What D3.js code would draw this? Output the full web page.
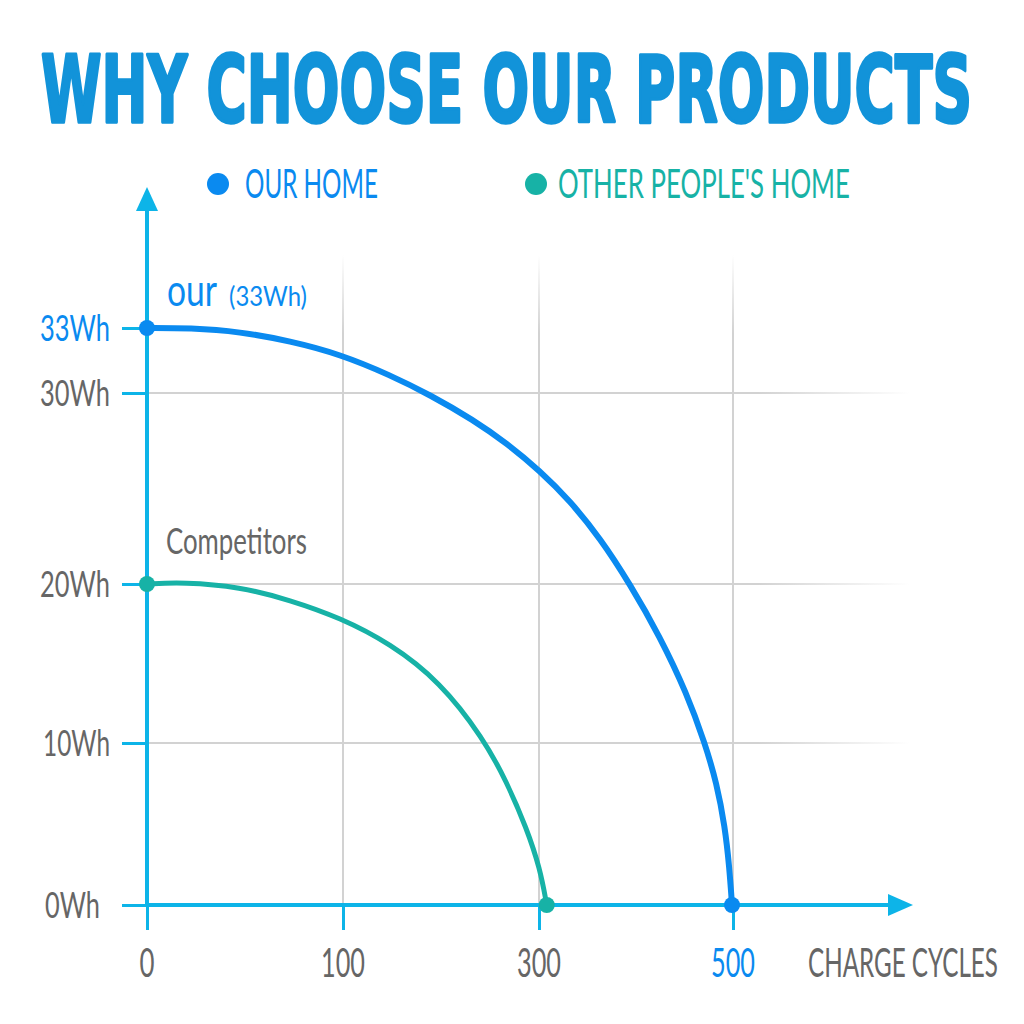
<!DOCTYPE html>
<html>
<head>
<meta charset="utf-8">
<script src="https://cdn.jsdelivr.net/npm/d3@7"></script>
<style>
  body { margin: 0; background: #fff; }
  svg { display: block; }
  text { font-family: Lato, "Open Sans", sans-serif; }
</style>
</head>
<body>
<div class="canvas"></div>
<script>
// tick values on both axes (the scales are piecewise, ticks are evenly spaced)
const cycleTicks = [0, 100, 300, 500];
const whTicks = [0, 10, 20, 30, 33];
const gridWh = [10, 20, 30];
const gridCycles = [100, 300, 500];

// our product curve (cycles, Wh)
const ourCycles = [0, 22, 47.4, 73, 98.5, 148, 188.8, 233, 267, 301, 332, 362.9, 393.8, 424.7, 452.3, 471.1, 483.2, 491.7, 496.2, 499];
const ourWh     = [33, 33, 32.83, 32.4, 31.79, 30.83, 29.9, 28.59, 27.37, 25.92, 24.35, 22.41, 20, 16.69, 13.13, 9.98, 7.51, 4.83, 2.36, 0];

// competitors curve
const otherCycles = [0, 18.5, 47.4, 73, 98.5, 148, 199, 243.2, 267, 287.4, 301, 308];
const otherWh     = [20, 20.1, 19.83, 18.99, 17.88, 16.27, 13.86, 10.3, 7.61, 4.73, 2.27, 0];

const blue = "#0a8af0";
const green = "#17b2a6";
const cyan = "#0db4e8";
const grey = "#666666";

const svg = d3.select(".canvas").append("svg")
    .attr("width", 1024)
    .attr("height", 1024);

const x = d3.scaleLinear().domain(cycleTicks).range([147, 343, 539, 733]);
const y = d3.scaleLinear().domain(whTicks).range([905, 743, 584, 393, 328]);

// text squeezed horizontally to a given width (the reference uses a condensed face)
function label(txt, px, py, w, size, color, anchor, styler) {
    const t = svg.append("text")
        .attr("text-anchor", anchor || "start")
        .style("font-size", size + "px")
        .attr("fill", color)
        .text(txt);
    if (styler) styler(t);
    const n = t.node().getComputedTextLength();
    t.attr("transform", `translate(${px},${py}) scale(${w / n},1)`);
    return t;
}

const defs = svg.append("defs");
const hfade = defs.append("linearGradient").attr("id", "hfade")
    .attr("gradientUnits", "userSpaceOnUse")
    .attr("x1", 147).attr("x2", 910).attr("y1", 0).attr("y2", 0);
hfade.append("stop").attr("offset", "0.8").attr("stop-color", "#d2d2d2");
hfade.append("stop").attr("offset", "1").attr("stop-color", "#d2d2d2").attr("stop-opacity", 0);
const vfade = defs.append("linearGradient").attr("id", "vfade")
    .attr("gradientUnits", "userSpaceOnUse")
    .attr("x1", 0).attr("x2", 0).attr("y1", 255).attr("y2", 905);
vfade.append("stop").attr("offset", "0").attr("stop-color", "#d2d2d2").attr("stop-opacity", 0);
vfade.append("stop").attr("offset", "0.12").attr("stop-color", "#d2d2d2");

// title
label("WHY CHOOSE OUR PRODUCTS", 41, 122, 931, 92, "#1293d9", "start", t => t
    .style("font-family", "'DejaVu Sans', sans-serif")
    .style("font-weight", "bold")
    .attr("stroke", "#1293d9").attr("stroke-width", 3.5).attr("stroke-linejoin", "round"));

// legend
svg.append("circle").attr("cx", 218).attr("cy", 184).attr("r", 11).attr("fill", blue);
label("OUR HOME", 245, 198, 133, 40, blue);
svg.append("circle").attr("cx", 536).attr("cy", 184).attr("r", 11).attr("fill", green);
label("OTHER PEOPLE'S HOME", 558, 198, 292, 40, green);

// grid
svg.selectAll(".hgrid").data(gridWh).enter().append("line")
    .attr("x1", 147).attr("x2", 910)
    .attr("y1", d => y(d)).attr("y2", d => y(d))
    .attr("stroke", "url(#hfade)").attr("stroke-width", 2);
svg.selectAll(".vgrid").data(gridCycles).enter().append("line")
    .attr("x1", d => x(d)).attr("x2", d => x(d))
    .attr("y1", 255).attr("y2", 905)
    .attr("stroke", "url(#vfade)").attr("stroke-width", 2);

// axes (tick marks from d3, labels drawn below)
const yAxis = svg.append("g")
    .attr("transform", "translate(147,0)")
    .call(d3.axisLeft(y).tickValues(whTicks).tickSize(25).tickFormat(""));
yAxis.select(".domain").remove();
yAxis.selectAll(".tick line").attr("stroke", cyan).attr("stroke-width", 3);

const xAxis = svg.append("g")
    .attr("transform", "translate(0,905)")
    .call(d3.axisBottom(x).tickValues(cycleTicks).tickSize(25).tickFormat(""));
xAxis.select(".domain").remove();
xAxis.selectAll(".tick line").attr("stroke", cyan).attr("stroke-width", 3);

whTicks.forEach(d => {
    const w = d === 0 ? 55 : d === 10 ? 67 : 70;
    const right = d === 0 ? 100 : 110;
    label(d + "Wh", right, y(d) + 13, w, 36, d === 33 ? blue : grey, "end");
});
cycleTicks.forEach(d => {
    label(String(d), x(d), 977, d === 0 ? 15 : 44, 40, d === 500 ? blue : grey, "middle");
});

// axis lines with arrows
svg.append("line").attr("x1", 147).attr("x2", 147).attr("y1", 907).attr("y2", 205)
    .attr("stroke", cyan).attr("stroke-width", 4);
svg.append("path").attr("d", d3.line()([[136, 211], [147, 187], [158, 211]]) + "Z").attr("fill", cyan);
svg.append("line").attr("x1", 145).attr("x2", 895).attr("y1", 905).attr("y2", 905)
    .attr("stroke", cyan).attr("stroke-width", 4);
svg.append("path").attr("d", d3.line()([[888, 894], [913, 905], [888, 916]]) + "Z").attr("fill", cyan);

label("CHARGE   CYCLES", 808, 977, 190, 40, grey);

// curves
const line = d3.line().x(d => x(d[0])).y(d => y(d[1])).curve(d3.curveBasis);
const ourPts = ourCycles.map((c, i) => [c, ourWh[i]]);
const otherPts = otherCycles.map((c, i) => [c, otherWh[i]]);

svg.append("path").datum(otherPts).attr("d", line)
    .attr("fill", "none").attr("stroke", green).attr("stroke-width", 5);
svg.append("path").datum(ourPts).attr("d", line)
    .attr("fill", "none").attr("stroke", blue).attr("stroke-width", 6);

const ends = [
    {p: ourPts[0], c: blue}, {p: ourPts[ourPts.length - 1], c: blue},
    {p: otherPts[0], c: green}, {p: otherPts[otherPts.length - 1], c: green}
];
svg.selectAll(".dot").data(ends).enter().append("circle")
    .attr("cx", d => x(d.p[0])).attr("cy", d => y(d.p[1]))
    .attr("r", 8).attr("fill", d => d.c);

// curve labels
label("our", 167, 306, 50, 44, blue);
label("(33Wh)", 229, 306, 78, 27, blue);
label("Competitors", 166, 554, 141, 36, grey);
</script>
</body>
</html>
